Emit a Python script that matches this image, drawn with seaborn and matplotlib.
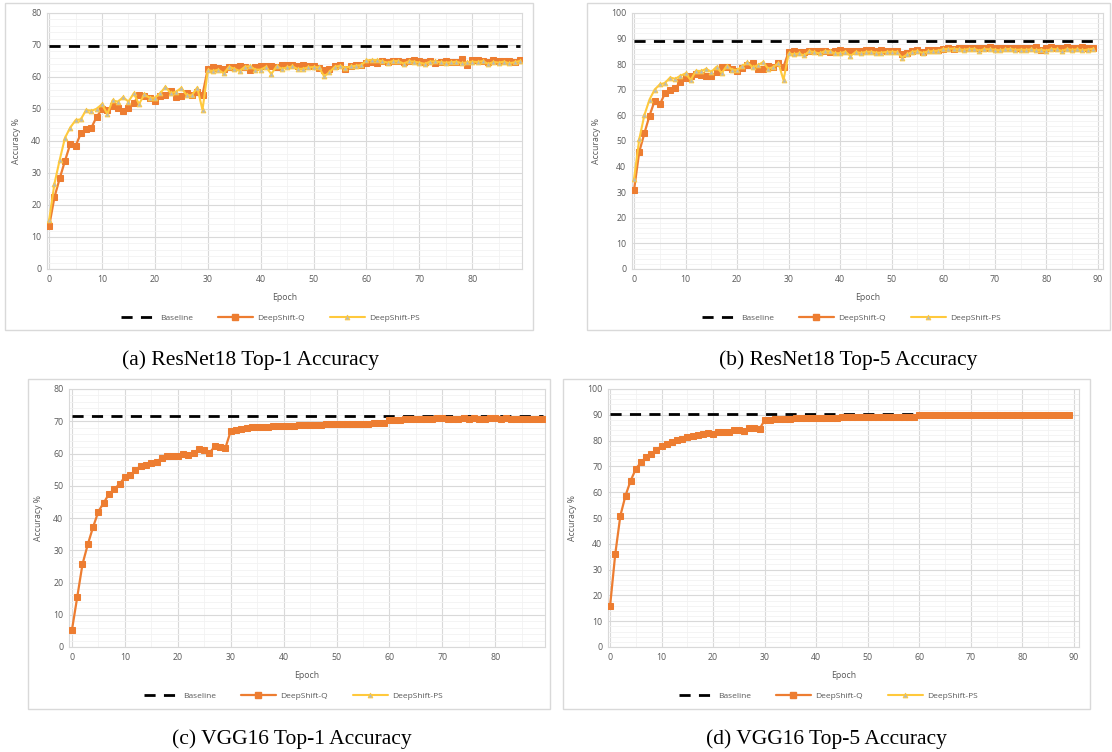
import matplotlib
matplotlib.use("Agg")
import matplotlib.pyplot as plt
import seaborn as sns
from matplotlib.lines import Line2D
from matplotlib.patches import Rectangle
from matplotlib.ticker import MultipleLocator

W, H = 1112, 752

epochs = list(range(90))
series_labels = ["Baseline", "DeepShift-Q", "DeepShift-PS"]
captions = ["(a) ResNet18 Top-1 Accuracy", "(b) ResNet18 Top-5 Accuracy",
            "(c) VGG16 Top-1 Accuracy", "(d) VGG16 Top-5 Accuracy"]
baselines = [69.76, 89.08, 71.59, 90.38]

resnet_top1_q = [
    13.3, 22.4, 28.3, 33.8, 39.1, 38.4, 42.4, 43.7, 44.2, 47.6,
    49.9, 49.7, 50.9, 50.2, 49.5, 50.2, 51.9, 54.3, 54.0, 53.5,
    52.5, 54.0, 54.3, 55.7, 53.8, 54.0, 54.9, 54.3, 55.4, 54.5,
    62.6, 63.0, 62.9, 62.6, 63.0, 63.1, 63.3, 63.0, 62.3, 63.1,
    63.5, 63.4, 63.3, 63.1, 63.6, 63.7, 63.7, 63.4, 63.9, 63.4,
    63.5, 62.8, 62.3, 62.6, 63.5, 63.6, 62.6, 63.5, 63.7, 63.9,
    64.5, 64.7, 64.3, 64.9, 64.6, 65.1, 64.9, 64.8, 65.0, 65.2,
    65.1, 64.7, 64.9, 64.5, 64.8, 64.9, 64.7, 64.8, 65.7, 63.8,
    65.2, 65.3, 65.1, 64.8, 65.2, 64.9, 65.1, 65.0, 64.6, 65.2,
]
resnet_top1_ps = [
    15.2, 26.6, 34.1, 41.0, 44.2, 46.5, 46.8, 49.7, 49.4, 50.1,
    51.5, 48.4, 52.7, 52.3, 53.7, 52.3, 54.9, 51.5, 54.6, 53.5,
    53.5, 54.9, 57.0, 54.9, 55.4, 56.6, 54.3, 54.3, 56.7, 49.7,
    62.1, 61.9, 62.3, 61.1, 63.2, 62.6, 61.9, 63.2, 63.4, 62.3,
    62.3, 63.2, 60.9, 63.4, 62.6, 63.0, 63.3, 62.5, 62.6, 63.0,
    63.1, 63.0, 60.2, 61.5, 63.2, 63.5, 62.9, 63.3, 63.5, 63.7,
    65.2, 65.3, 65.3, 64.9, 64.5, 65.0, 65.0, 64.2, 64.9, 64.8,
    64.5, 64.1, 64.8, 64.9, 64.6, 64.5, 64.6, 64.8, 64.3, 64.6,
    64.8, 64.7, 65.0, 64.1, 64.7, 64.5, 64.8, 64.3, 64.6, 65.0,
]
resnet_top5_q = [
    30.9, 45.7, 53.0, 59.9, 65.7, 64.3, 68.6, 70.1, 70.6, 73.2,
    74.8, 75.3, 76.1, 75.7, 75.3, 75.3, 77.0, 79.0, 79.0, 78.3,
    77.4, 78.7, 79.5, 80.3, 78.2, 78.1, 79.2, 79.0, 80.3, 79.0,
    84.8, 85.0, 84.9, 84.8, 85.1, 85.0, 85.2, 85.3, 84.6, 85.2,
    85.4, 85.3, 85.2, 85.0, 85.3, 85.5, 85.4, 85.2, 85.5, 85.3,
    85.3, 85.0, 84.0, 84.4, 85.3, 85.5, 84.9, 85.4, 85.5, 85.6,
    86.1, 86.3, 86.0, 86.4, 86.3, 86.5, 86.4, 86.2, 86.4, 86.6,
    86.5, 86.3, 86.5, 86.2, 86.4, 86.5, 86.3, 86.4, 86.8, 85.7,
    86.5, 86.6, 86.5, 86.3, 86.6, 86.4, 86.5, 86.6, 86.3, 86.5,
]
resnet_top5_ps = [
    35.1, 50.6, 60.1, 66.2, 70.1, 72.1, 72.7, 74.8, 74.3, 75.5,
    76.4, 73.8, 77.4, 77.3, 78.2, 77.0, 79.0, 76.5, 79.4, 77.9,
    77.7, 79.2, 80.8, 78.8, 79.6, 80.8, 78.3, 78.8, 80.5, 73.8,
    84.2, 83.9, 84.2, 83.4, 85.1, 84.7, 84.2, 85.1, 85.0, 84.3,
    84.3, 84.9, 83.2, 84.8, 84.4, 84.8, 84.9, 84.5, 84.5, 84.8,
    84.9, 84.8, 82.6, 83.8, 84.9, 85.1, 84.4, 85.0, 85.1, 85.3,
    85.9, 86.0, 86.1, 85.8, 85.6, 86.0, 86.0, 85.3, 85.9, 85.8,
    85.7, 85.4, 85.8, 86.0, 85.6, 85.7, 85.6, 85.8, 85.4, 85.7,
    85.3, 85.9, 85.8, 85.2, 85.9, 85.6, 85.8, 85.4, 85.7, 86.0,
]
vgg_top1_q = [
    5.2, 15.4, 25.7, 31.8, 37.2, 42.0, 44.7, 47.4, 49.0, 50.5,
    52.7, 53.2, 54.8, 56.2, 56.5, 57.1, 57.5, 58.6, 59.3, 59.1,
    59.1, 59.9, 59.5, 60.2, 61.4, 61.2, 60.2, 62.2, 62.0, 61.7,
    66.9, 67.4, 67.6, 67.8, 68.1, 68.2, 68.3, 68.1, 68.4, 68.4,
    68.5, 68.6, 68.6, 68.7, 68.8, 68.8, 68.9, 68.9, 69.0, 69.0,
    69.1, 69.1, 69.2, 69.2, 69.3, 69.3, 69.3, 69.4, 69.4, 69.5,
    70.4, 70.5, 70.5, 70.6, 70.6, 70.7, 70.7, 70.8, 70.7, 70.9,
    70.9, 70.8, 70.6, 70.8, 70.9, 70.8, 70.9, 70.8, 70.7, 70.9,
    70.9, 70.8, 70.9, 70.8, 70.7, 70.6, 70.8, 70.7, 70.8, 70.7,
]
vgg_top5_q = [
    15.8, 35.9, 50.9, 58.7, 64.5, 69.0, 71.6, 73.6, 74.9, 76.2,
    78.0, 78.6, 79.5, 80.4, 80.6, 81.4, 81.7, 82.3, 82.7, 82.9,
    82.7, 83.3, 83.2, 83.5, 84.2, 84.2, 83.6, 84.9, 84.8, 84.5,
    87.9, 88.1, 88.2, 88.4, 88.5, 88.5, 88.6, 88.6, 88.7, 88.7,
    88.8, 88.8, 88.8, 88.9, 88.9, 89.0, 89.0, 89.1, 89.0, 89.1,
    89.1, 89.1, 89.2, 89.1, 89.2, 89.2, 89.3, 89.2, 89.3, 89.3,
    89.8, 89.9, 89.9, 89.9, 90.0, 89.9, 90.0, 90.0, 90.0, 90.1,
    90.0, 90.0, 90.0, 90.1, 90.0, 90.0, 90.1, 90.0, 90.1, 90.1,
    90.0, 90.1, 90.0, 90.0, 90.1, 90.0, 90.0, 90.1, 90.0, 90.0,
]

ORANGE = "#ED7D31"
YELLOW = "#FFC93C"
GREY_TXT = "#595959"

sns.set_theme(style="whitegrid")
plt.rcParams["font.family"] = ["Open Sans", "DejaVu Sans"]

fig = plt.figure(figsize=(W / 100, H / 100), dpi=100)

# box (px), plot area (px), xlim, ymax, legend centre (px), caption centre (px)
panels = [
    dict(box=(5, 3, 533, 330), area=(47, 13, 522, 269), xlim=(-0.4, 89.4),
         ymax=80, xticks=range(0, 90, 10), leg=(270, 318), cap=(251, 360)),
    dict(box=(587, 3, 1110, 330), area=(632, 13, 1103, 269), xlim=(-0.4, 91),
         ymax=100, xticks=range(0, 91, 10), leg=(851, 318), cap=(848, 360)),
    dict(box=(28, 379, 550, 709), area=(69, 389, 545, 647), xlim=(-0.55, 89.4),
         ymax=80, xticks=range(0, 90, 10), leg=(293, 696), cap=(292, 739)),
    dict(box=(563, 379, 1090, 709), area=(608, 389, 1079, 647), xlim=(-0.4, 91),
         ymax=100, xticks=range(0, 91, 10), leg=(828, 696), cap=(826, 739)),
]
q_series = [resnet_top1_q, resnet_top5_q, vgg_top1_q, vgg_top5_q]
ps_series = [resnet_top1_ps, resnet_top5_ps, None, None]

for i, p in enumerate(panels):
    bx0, by0, bx1, by1 = p["box"]
    fig.patches.append(Rectangle((bx0 / W, 1 - by1 / H), (bx1 - bx0) / W, (by1 - by0) / H,
                                 transform=fig.transFigure, fill=False,
                                 edgecolor="#D9D9D9", linewidth=1.0))
    x0, y0, x1, y1 = p["area"]
    ax = fig.add_axes([x0 / W, 1 - y1 / H, (x1 - x0) / W, (y1 - y0) / H])
    ax.set_facecolor("white")

    ax.plot([epochs[0], epochs[-1]], [baselines[i], baselines[i]], color="black",
            linewidth=2.0, linestyle=(0, (4, 3)), zorder=2)
    if ps_series[i] is not None:
        sns.lineplot(x=epochs, y=ps_series[i], ax=ax, color=YELLOW, linewidth=1.5,
                     marker="^", markersize=3.5, markerfacecolor="#B3B8BE",
                     markeredgecolor=YELLOW, markeredgewidth=0.6, zorder=4)
    sns.lineplot(x=epochs, y=q_series[i], ax=ax, color=ORANGE, linewidth=1.6,
                 marker="s", markersize=3.8, markeredgecolor=ORANGE, zorder=3)

    ax.set_xlim(*p["xlim"])
    ax.set_ylim(0, p["ymax"])
    ax.set_xticks(list(p["xticks"]))
    ax.yaxis.set_major_locator(MultipleLocator(10))
    ax.yaxis.set_minor_locator(MultipleLocator(2))
    ax.xaxis.set_minor_locator(MultipleLocator(5))
    ax.grid(which="major", color="#D9D9D9", linewidth=0.8)
    ax.grid(which="minor", color="#F2F2F2", linewidth=0.6)
    ax.set_axisbelow(True)
    for s in ax.spines.values():
        s.set_color("#D9D9D9")
        s.set_linewidth(0.8)
    ax.tick_params(which="both", length=0, labelsize=6.3, labelcolor=GREY_TXT, pad=4)
    ax.set_xlabel("Epoch", fontsize=6.3, color=GREY_TXT, labelpad=7)
    ax.set_ylabel("Accuracy %", fontsize=6.3, color=GREY_TXT, labelpad=7)

    handles = [
        Line2D([], [], color="black", linewidth=2.0, linestyle=(0, (4, 3))),
        Line2D([], [], color=ORANGE, linewidth=1.6, marker="s", markersize=4),
        Line2D([], [], color=YELLOW, linewidth=1.5, marker="^", markersize=3.5,
               markerfacecolor="#B3B8BE", markeredgecolor=YELLOW, markeredgewidth=0.6),
    ]
    lx, ly = p["leg"]
    ax.legend(handles, series_labels, loc="center", ncol=3, frameon=False,
              bbox_to_anchor=(lx / W, 1 - ly / H), bbox_transform=fig.transFigure,
              fontsize=6, labelcolor=GREY_TXT, handlelength=4.2, columnspacing=3.0,
              handletextpad=0.5)

    cx, cy = p["cap"]
    fig.text(cx / W, 1 - cy / H, captions[i], ha="center", va="center",
             fontsize=15.5, family=["Liberation Serif", "DejaVu Serif"], color="black")

fig.savefig("out.png", dpi=100)
